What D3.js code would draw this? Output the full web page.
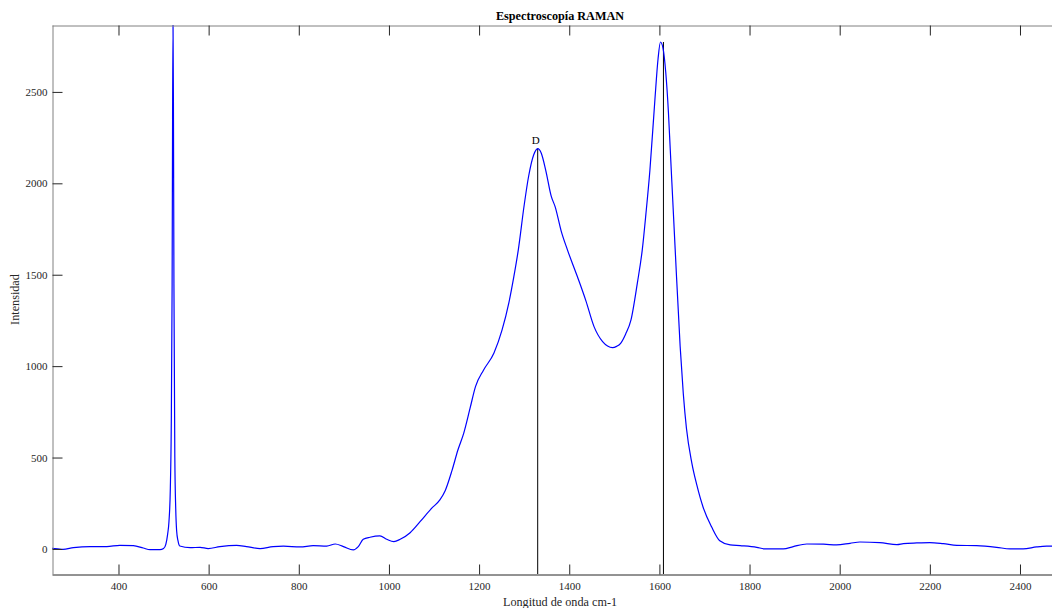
<!DOCTYPE html>
<html>
<head>
<meta charset="utf-8">
<script src="https://cdn.jsdelivr.net/npm/d3@7"></script>
<style>
  html, body { margin: 0; padding: 0; background: #fff; overflow: hidden; }
  svg { display: block; }
  text { font-family: "Liberation Serif", "Times New Roman", serif; }
</style>
</head>
<body>
<svg id="chart" width="1052" height="608"></svg>
<script>
// ---- data ----
const wavenumber = [
  252.5, 265, 277, 300, 337, 374, 403, 433, 455, 470, 492, 500, 505, 509, 512, 515, 517, 519, 520, 521,
  522, 523, 525, 527, 529, 532, 536, 559, 581, 599, 625, 662, 684, 714, 743, 766, 803, 832, 862, 881,
  899, 921, 932, 943, 958, 980, 995, 1011, 1025, 1047, 1069, 1095, 1113, 1125, 1140, 1153, 1166, 1180, 1192, 1210,
  1233, 1251, 1266, 1277, 1287, 1300, 1310, 1321, 1330, 1338, 1348, 1360, 1369, 1382, 1396, 1418, 1437, 1455, 1474, 1485,
  1496, 1505, 1514, 1525, 1537, 1551, 1562, 1570, 1579, 1590, 1597, 1602.4, 1608, 1614, 1620, 1624, 1635, 1646, 1653, 1660,
  1672, 1683, 1697, 1716, 1734, 1757, 1779, 1816, 1834, 1875, 1897, 1927, 1964, 1993, 2023, 2045, 2089, 2127, 2141, 2171,
  2200, 2230, 2260, 2304, 2348, 2378, 2407, 2437, 2459, 2471, 2505
];
const intensity = [
  4, 1, -2, 7, 13, 13, 20, 18, 5, -4, -4, 2, 25, 80, 150, 330, 650, 1450, 2350, 2866,
  2350, 1450, 500, 220, 100, 45, 16, 7, 9, 2, 13, 20, 13, 2, 13, 15, 11, 18, 16, 27,
  13, -5, 13, 53, 64, 71, 53, 40, 53, 89, 149, 223, 268, 320, 430, 541, 634, 770, 888, 979,
  1072, 1198, 1346, 1488, 1636, 1880, 2040, 2155, 2190, 2165, 2070, 1930, 1870, 1740, 1636, 1490, 1357, 1216, 1134, 1110,
  1101, 1108, 1125, 1175, 1253, 1453, 1636, 1830, 2073, 2456, 2680, 2773, 2740, 2610, 2390, 2190, 1640, 1110, 850, 660,
  470, 350, 228, 120, 45, 22, 18, 9, 0, 0, 13, 27, 26, 22, 31, 38, 35, 24, 29, 33,
  35, 29, 20, 18, 9, 0, 0, 11, 15, 15, 15
];
const xTicks = [400, 600, 800, 1000, 1200, 1400, 1600, 1800, 2000, 2200, 2400];
const yTicks = [0, 500, 1000, 1500, 2000, 2500];
const markerPositions = [1330, 1609];
const markerPeaks = [2190, 2773];
const markerLabels = ["D", ""];
const titleText = "Espectroscopía RAMAN";
const xLabelText = "Longitud de onda cm-1";
const yLabelText = "Intensidad";

// ---- layout ----
const mLeft = 52, mRight = 1068, mTop = 25, mBottom = 574;
const svg = d3.select("#chart");

const x = d3.scaleLinear().domain([252.5, 2506.5]).range([mLeft, mRight]);
const y = d3.scaleLinear().domain([-137, 2866]).range([mBottom, mTop]);

svg.append("defs").append("clipPath").attr("id", "clip")
  .append("rect").attr("x", mLeft).attr("y", mTop).attr("width", mRight - mLeft).attr("height", mBottom - mTop);

const data = wavenumber.map((w, i) => ({w, v: intensity[i]}));

// marker lines
const mk = svg.append("g").attr("clip-path", "url(#clip)");
markerPositions.forEach((p, i) => {
  mk.append("line")
    .attr("x1", x(p)).attr("x2", x(p))
    .attr("y1", y(-137)).attr("y2", y(markerPeaks[i]))
    .attr("stroke", "#000").attr("stroke-width", 1);
});

// spectrum
const line = d3.line().x(d => x(d.w)).y(d => y(d.v)).curve(d3.curveMonotoneX);
svg.append("path").datum(data)
  .attr("clip-path", "url(#clip)")
  .attr("d", line)
  .attr("fill", "none").attr("stroke", "#0000ff").attr("stroke-width", 1.2);

// marker labels
markerPositions.forEach((p, i) => {
  if (!markerLabels[i]) return;
  svg.append("text").attr("x", x(p) - 2).attr("y", y(markerPeaks[i]) - 5)
    .attr("text-anchor", "middle").attr("font-size", 11).attr("fill", "#000")
    .text(markerLabels[i]);
});

// axes
const fmt = d3.format("d");
const xAxisB = d3.axisBottom(x).tickValues(xTicks).tickFormat(fmt).tickSizeInner(-10).tickSizeOuter(0).tickPadding(8);
const xAxisT = d3.axisTop(x).tickValues(xTicks).tickSizeInner(-10).tickSizeOuter(0).tickFormat("");
const yAxisL = d3.axisLeft(y).tickValues(yTicks).tickFormat(fmt).tickSizeInner(-10).tickSizeOuter(0).tickPadding(5);
const yAxisR = d3.axisRight(y).tickValues(yTicks).tickSizeInner(-10).tickSizeOuter(0).tickFormat("");

function style(g, domainColor) {
  g.select(".domain").attr("stroke", domainColor).attr("stroke-width", 1);
  g.selectAll(".tick line").attr("stroke", "#262626").attr("stroke-width", 1);
  g.selectAll(".tick text").attr("fill", "#262626").attr("font-size", 11)
    .attr("font-family", "'Liberation Serif', 'Times New Roman', serif");
}
style(svg.append("g").attr("transform", `translate(0,${mBottom + 0.5})`).call(xAxisB), "#262626");
style(svg.append("g").attr("transform", `translate(0,${mTop + 0.5})`).call(xAxisT), "#808080");
style(svg.append("g").attr("transform", `translate(${mLeft + 0.5},0)`).call(yAxisL), "#808080");
style(svg.append("g").attr("transform", `translate(${mRight - 0.5},0)`).call(yAxisR), "#808080");

// title & labels
const cx = (mLeft + mRight) / 2;
svg.append("text").attr("x", cx).attr("y", 20).attr("text-anchor", "middle")
  .attr("font-size", 12.2).attr("font-weight", "bold").attr("fill", "#000").text(titleText);
svg.append("text").attr("x", cx).attr("y", 606).attr("text-anchor", "middle")
  .attr("font-size", 12.2).attr("fill", "#262626").text(xLabelText);
svg.append("text").attr("transform", `translate(19,${(mTop + mBottom) / 2}) rotate(-90)`)
  .attr("text-anchor", "middle").attr("font-size", 12.2).attr("fill", "#262626").text(yLabelText);
</script>
</body>
</html>
